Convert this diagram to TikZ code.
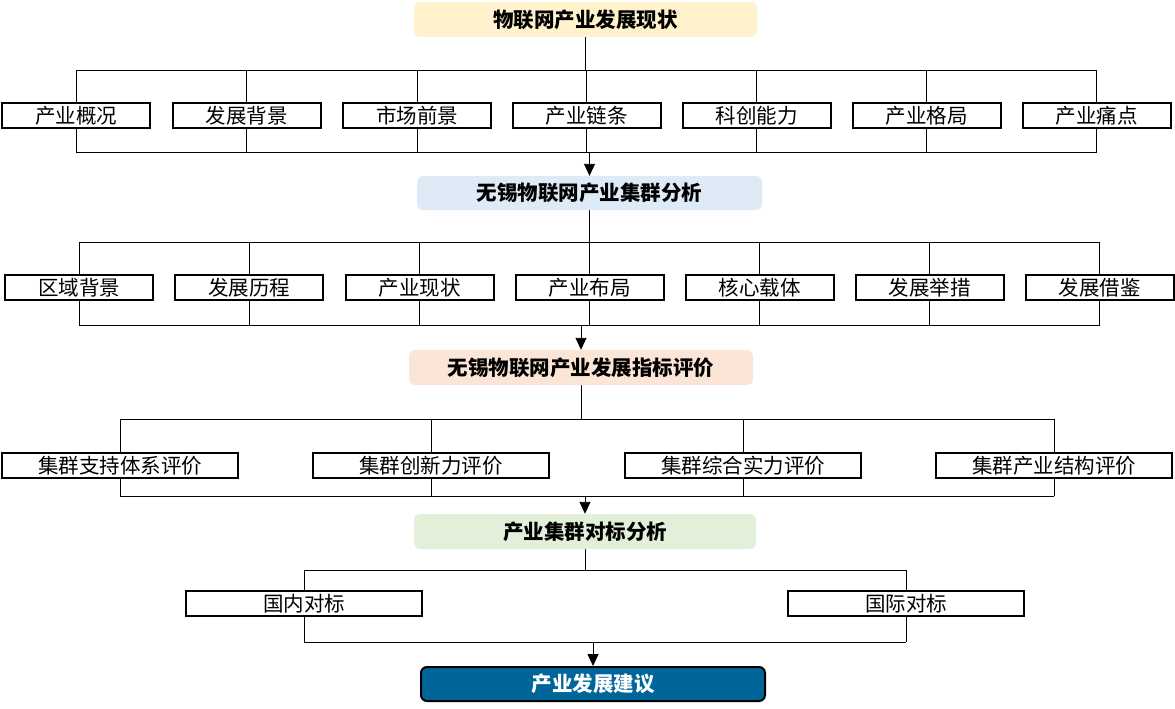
\documentclass[tikz,border=0pt]{standalone}
\usepackage{fontspec}
\setmainfont{Noto Sans CJK SC}
\usetikzlibrary{backgrounds,arrows.meta}
\definecolor{hyellow}{HTML}{FFF2CC}
\definecolor{hblue}{HTML}{DEEBF7}
\definecolor{hpeach}{HTML}{FBE5D6}
\definecolor{hgreen}{HTML}{E2F0D9}
\definecolor{hdark}{HTML}{00669A}
\tikzset{
  hdr/.style={rounded corners=6pt, minimum width=343pt, minimum height=35pt, inner sep=0pt,
    font=\fontsize{20.5}{22}\selectfont\bfseries, text=black},
  itembox/.style={draw=black, line width=2pt, fill=white, minimum width=148pt, minimum height=25pt,
    inner sep=0pt, font=\fontsize{20.5}{22}\selectfont},
  widebox/.style={itembox, minimum width=236pt},
  conn/.style={draw=black, line width=0.9pt},
  arr/.style={conn, -{Triangle[length=12pt,width=11pt]}},
}
\begin{document}
\begin{tikzpicture}[x=1pt,y=-1pt]
\useasboundingbox (0,0) rectangle (1175,709);
% headers
\node[hdr, fill=hyellow] (h1) at (585.5,19.5) {物联网产业发展现状};
\node[hdr, fill=hblue, minimum width=345pt, minimum height=34pt] (h2) at (589.5,193) {无锡物联网产业集群分析};
\node[hdr, fill=hpeach, minimum width=344pt] (h3) at (581,367.5) {无锡物联网产业发展指标评价};
\node[hdr, fill=hgreen, minimum width=342pt] (h4) at (585,531.5) {产业集群对标分析};
\node[hdr, fill=hdark, draw=black, line width=2pt, minimum width=344pt, minimum height=34pt, text=white] (h5) at (593,684) {产业发展建议};
% row 1
\node[itembox] (a1) at (76,115.5) {产业概况};
\node[itembox] (a2) at (246.5,115.5) {发展背景};
\node[itembox] (a3) at (417,115.5) {市场前景};
\node[itembox] (a4) at (586.5,115.5) {产业链条};
\node[itembox] (a5) at (756.5,115.5) {科创能力};
\node[itembox] (a6) at (926.5,115.5) {产业格局};
\node[itembox] (a7) at (1096.5,115.5) {产业痛点};
% row 2
\node[itembox] (b1) at (79,287.5) {区域背景};
\node[itembox] (b2) at (249,287.5) {发展历程};
\node[itembox] (b3) at (419.5,287.5) {产业现状};
\node[itembox] (b4) at (589.5,287.5) {产业布局};
\node[itembox] (b5) at (759.5,287.5) {核心载体};
\node[itembox] (b6) at (929.5,287.5) {发展举措};
\node[itembox] (b7) at (1099.5,287.5) {发展借鉴};
% row 3
\node[widebox] (c1) at (120,465.5) {集群支持体系评价};
\node[widebox] (c2) at (431,465.5) {集群创新力评价};
\node[widebox] (c3) at (743,465.5) {集群综合实力评价};
\node[widebox] (c4) at (1054,465.5) {集群产业结构评价};
% row 4
\node[widebox] (d1) at (304,603.5) {国内对标};
\node[widebox] (d2) at (906,603.5) {国际对标};
% bus coordinates
\coordinate (t1) at (0,70);   \coordinate (u1) at (0,152);
\coordinate (t2) at (0,242);  \coordinate (u2) at (0,325);
\coordinate (t3) at (0,419);  \coordinate (u3) at (0,496);
\coordinate (t4) at (0,570);  \coordinate (u4) at (0,642);
\begin{scope}[on background layer]
  % stage 1
  \draw[conn] (h1.south) -- (h1.south |- t1);
  \draw[conn] (a1 |- t1) -- (a7 |- t1);
  \draw[conn] (a1 |- u1) -- (a7 |- u1);
  \foreach \n in {a1,a2,a3,a4,a5,a6,a7} \draw[conn] (\n |- t1) -- (\n |- u1);
  \draw[arr] (h2.north |- u1) -- (h2.north);
  % stage 2
  \draw[conn] (h2.south) -- (h2.south |- t2);
  \draw[conn] (b1 |- t2) -- (b7 |- t2);
  \draw[conn] (b1 |- u2) -- (b7 |- u2);
  \foreach \n in {b1,b2,b3,b4,b5,b6,b7} \draw[conn] (\n |- t2) -- (\n |- u2);
  \draw[arr] (h3.north |- u2) -- (h3.north);
  % stage 3
  \draw[conn] (h3.south) -- (h3.south |- t3);
  \draw[conn] (c1 |- t3) -- (c4 |- t3);
  \draw[conn] (c1 |- u3) -- (c4 |- u3);
  \foreach \n in {c1,c2,c3,c4} \draw[conn] (\n |- t3) -- (\n |- u3);
  \draw[arr] (h4.north |- u3) -- (h4.north);
  % stage 4
  \draw[conn] (h4.south) -- (h4.south |- t4);
  \draw[conn] (d1 |- t4) -- (d2 |- t4);
  \draw[conn] (d1 |- u4) -- (d2 |- u4);
  \foreach \n in {d1,d2} \draw[conn] (\n |- t4) -- (\n |- u4);
  \draw[arr] (h5.north |- u4) -- (h5.north);
\end{scope}
\end{tikzpicture}
\end{document}
